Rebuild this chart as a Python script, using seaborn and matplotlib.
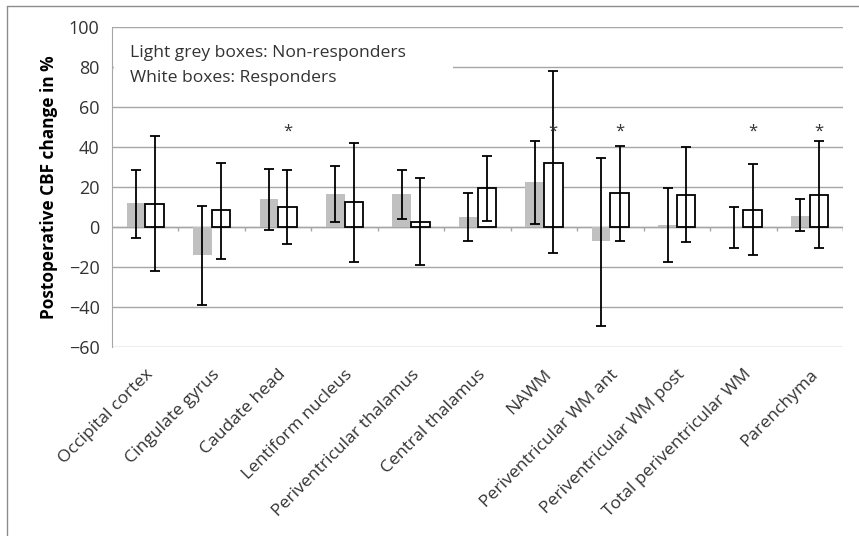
import numpy as np
import pandas as pd
import seaborn as sns
import matplotlib.pyplot as plt
from matplotlib.patches import Rectangle
from matplotlib.lines import Line2D

# Regions and values (% change in CBF)
regions = ['Occipital cortex', 'Cingulate gyrus', 'Caudate head', 'Lentiform nucleus',
           'Periventricular thalamus', 'Central thalamus', 'NAWM', 'Periventricular WM ant',
           'Periventricular WM post', 'Total periventricular WM', 'Parenchyma']

nonresp_mean = [12, -14, 14, 16.3, 16.3, 4.8, 22.5, -6.8, 1, 0, 5.5]
nonresp_low = [-5.3, -39, -1.7, 2.3, 3.8, -6.8, 1.5, -49.7, -17.7, -10.7, -2.2]
nonresp_high = [28.3, 10.5, 29, 30.6, 28.3, 17, 42.8, 34.3, 19.3, 10, 13.8]

resp_mean = [11.5, 8.5, 10, 12.5, 2.3, 19.3, 32.2, 17, 16.2, 8.5, 16.2]
resp_low = [-22, -16, -8.5, -17.7, -19.2, 3.2, -13, -6.8, -7.7, -13.8, -10.7]
resp_high = [45.3, 32, 28.3, 42, 24.5, 35.3, 78.2, 40.7, 39.8, 31.5, 42.8]

significant = [False, False, True, False, False, False, True, True, False, True, True]

yticks = [-60, -40, -20, 0, 20, 40, 60, 80, 100]

sns.set_style('white')
plt.rcParams['font.family'] = ['Open Sans', 'DejaVu Sans']
text_col = '#333333'
grid_col = '#a6a6a6'

df = pd.DataFrame({
    'region': regions * 2,
    'change': nonresp_mean + resp_mean,
    'group': ['Non-responders'] * len(regions) + ['Responders'] * len(regions),
})

fig = plt.figure(figsize=(8.59, 5.36), dpi=100)
ax = fig.add_axes([112 / 859, 1 - 347 / 536, (843 - 112) / 859, 320 / 536])

sns.barplot(data=df, x='region', y='change', hue='group', palette=['#c0c0c0', 'white'],
            width=0.56, saturation=1, legend=False, ax=ax, zorder=2)

# grey boxes without edge, white boxes with black edge
for p in ax.containers[0]:
    p.set_edgecolor('none')
for p in ax.containers[1]:
    p.set_edgecolor('black')
    p.set_linewidth(1.3)

# error bars
for cont, mean, lo, hi in zip(ax.containers, [nonresp_mean, resp_mean],
                              [nonresp_low, resp_low], [nonresp_high, resp_high]):
    xs = [p.get_x() + p.get_width() / 2 for p in cont]
    m = np.array(mean)
    ax.errorbar(xs, m, yerr=[m - np.array(lo), np.array(hi) - m], fmt='none',
                ecolor='black', elinewidth=1.3, capsize=3.5, capthick=1.3, zorder=3)

# significance stars above responder bars
for p, sig in zip(ax.containers[1], significant):
    if sig:
        ax.text(p.get_x() + p.get_width() / 2, 47.5, '*', ha='center', va='center',
                fontsize=12, color=text_col, zorder=4)

ax.set_ylim(-60, 100)
ax.set_xlim(-0.5, len(regions) - 0.5)
ax.set_yticks(yticks)
ax.yaxis.grid(True, color=grid_col, lw=1)
ax.set_axisbelow(True)
for s in ['top', 'right', 'bottom']:
    ax.spines[s].set_visible(False)
ax.spines['left'].set_color(grid_col)

# x axis line at zero with small category ticks
ax.axhline(0, color=grid_col, lw=1, zorder=1)
ax.vlines(np.arange(0.5, len(regions)), 0, -2.2, color=grid_col, lw=1, zorder=1)
ax.vlines([len(regions) - 0.5], 0, -2.2, color=grid_col, lw=1, zorder=1)

ax.tick_params(axis='y', length=5, color=grid_col, pad=4, labelsize=13, labelcolor=text_col)
ax.tick_params(axis='x', length=0, pad=14, labelsize=12.6, labelcolor=text_col)
ax.set_xticks(range(len(regions)))
ax.set_xticklabels(regions, rotation=45, ha='right', va='top', rotation_mode='anchor')
ax.set_xlabel('')
ax.set_ylabel('Postoperative CBF change in %', fontsize=12.4, fontweight='bold',
              color='black', labelpad=8)

# annotation box
ax.add_patch(Rectangle((0.003, 0.80), 0.463, 0.17, transform=ax.transAxes,
                       facecolor='white', edgecolor='none', zorder=1.5))
ax.text(0.025, 0.906, 'Light grey boxes: Non-responders', transform=ax.transAxes,
        fontsize=12.6, color=text_col, va='baseline', zorder=5)
ax.text(0.025, 0.828, 'White boxes: Responders', transform=ax.transAxes,
        fontsize=12.6, color=text_col, va='baseline', zorder=5)

# chart frame (left and top edges visible)
fig.add_artist(Line2D([7 / 859, 7 / 859], [0, 1 - 6 / 536], color='#8c8c8c', lw=1))
fig.add_artist(Line2D([7 / 859, 1], [1 - 6 / 536, 1 - 6 / 536], color='#8c8c8c', lw=1))

fig.savefig('out.png', dpi=100)
